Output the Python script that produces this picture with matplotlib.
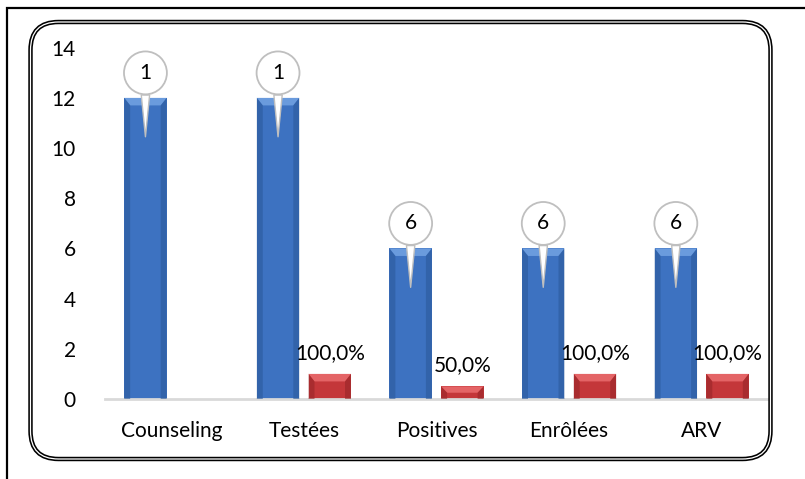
import numpy as np
import matplotlib
matplotlib.use("Agg")
import matplotlib.pyplot as plt
from matplotlib.patches import Polygon, FancyBboxPatch, Rectangle
from matplotlib.transforms import offset_copy, IdentityTransform

# Données
categories = ["Counseling", "Testées", "Positives", "Enrôlées", "ARV"]
effectifs = [12, 12, 6, 6, 6]
bulles = ["1", "1", "6", "6", "6"]          # étiquettes tronquées dans les bulles
ratios = [0, 1, 0.5, 1, 1]
pourcentages = [None, 100.0, 50.0, 100.0, 100.0]

plt.rcParams['font.family'] = ['Lato', 'DejaVu Sans']
plt.rcParams['font.size'] = 15

fig = plt.figure(figsize=(8.05, 4.79), dpi=100)
ax = fig.add_axes([105 / 805, 1 - 399 / 479, 663 / 805, (399 - 47.7) / 479])

x = np.arange(len(categories))
w = 0.32
off = 0.195

bleu = dict(face='#3D72C1', top='#6A9BDD', side='#2C5A9C')
rouge = dict(face='#C4373A', top='#E46466', side='#982628')

b1 = ax.bar(x - off, effectifs, w, color=bleu['face'], zorder=2, linewidth=0)
b2 = ax.bar(x + off, ratios, w, color=rouge['face'], zorder=2, linewidth=0)


def biseau(bars, pal):
    # petit effet de relief sur chaque barre
    for p in bars:
        x0, y0, bw, bh = p.get_x(), p.get_y(), p.get_width(), p.get_height()
        if bh <= 0:
            continue
        dx = 0.045
        dy = min(0.3, bh / 2)
        x1 = x0 + bw
        y1 = y0 + bh
        ax.add_patch(Polygon([(x0, y1), (x1, y1), (x1 - dx, y1 - dy), (x0 + dx, y1 - dy)],
                             closed=True, fc=pal['top'], lw=0, zorder=3))
        ax.add_patch(Polygon([(x0, y0), (x0, y1), (x0 + dx, y1 - dy), (x0 + dx, y0)],
                             closed=True, fc=pal['side'], lw=0, zorder=3, alpha=0.6))
        ax.add_patch(Polygon([(x1, y0), (x1, y1), (x1 - dx, y1 - dy), (x1 - dx, y0)],
                             closed=True, fc=pal['side'], lw=0, zorder=3, alpha=0.6))


biseau(b1, bleu)
biseau(b2, rouge)

# bulles sur les barres bleues
pointe = offset_copy(ax.transData, fig=fig, y=-28, units='points')
for xi, v, lab in zip(x - off, effectifs, bulles):
    ax.annotate(lab, xy=(xi, v), xycoords=pointe,
                xytext=(0, 46), textcoords='offset points',
                ha='center', va='center', fontsize=15, zorder=5,
                bbox=dict(boxstyle='circle,pad=0.55', fc='white', ec='#BFBFBF', lw=1.3),
                arrowprops=dict(arrowstyle='wedge,tail_width=0.4', fc='white',
                                ec='#BFBFBF', lw=1, shrinkA=0, shrinkB=0))

# pourcentages au-dessus des barres rouges
for xi, v, pc in zip(x + off, ratios, pourcentages):
    if pc is None:
        continue
    txt = f"{pc:.1f}%".replace('.', ',')
    ax.annotate(txt, xy=(xi, v), xytext=(0, 8), textcoords='offset points',
                ha='center', va='bottom', fontsize=15, zorder=5)

ax.set_xlim(-0.5, 4.5)
ax.set_ylim(0, 14)
ax.set_yticks(range(0, 15, 2))
ax.set_xticks(x)
ax.set_xticklabels(categories)
ax.tick_params(axis='both', length=0)
ax.tick_params(axis='y', pad=21)
ax.tick_params(axis='x', pad=16)
for s in ['top', 'right', 'left']:
    ax.spines[s].set_visible(False)
ax.spines['bottom'].set_color('#D9D9D9')
ax.spines['bottom'].set_linewidth(2)

# cadres
fig.add_artist(Rectangle((7, -10), 900, 479 - 8 + 10, fill=False, ec='black', lw=1.6,
                         transform=IdentityTransform()))
for lw, c in [(3.2, 'black'), (0.9, 'white')]:
    fig.add_artist(FancyBboxPatch((30.5, 20), 740, 437,
                                  boxstyle='round,pad=0,rounding_size=28',
                                  fill=False, ec=c, lw=lw, transform=IdentityTransform()))

fig.savefig('out.png', dpi=100)
